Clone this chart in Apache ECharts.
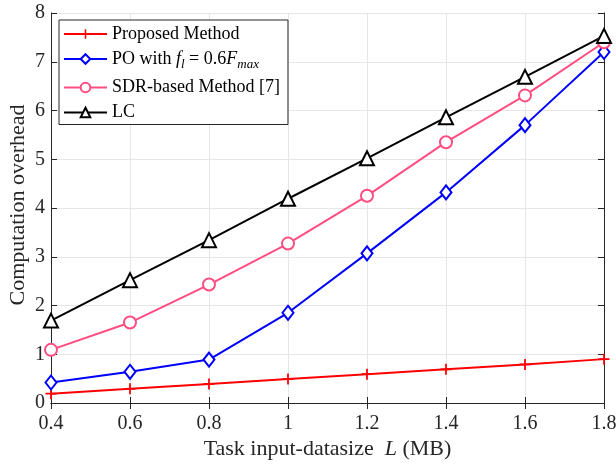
<!DOCTYPE html>
<html><head><meta charset="utf-8">
<script src="https://cdn.jsdelivr.net/npm/echarts@6/dist/echarts.min.js"></script>
<style>html,body{margin:0;padding:0;background:#fff}#c{width:616px;height:465px}</style>
</head><body><div id="c"></div>
<script>
const xValues = [0.4, 0.6, 0.8, 1.0, 1.2, 1.4, 1.6, 1.8];
const proposed = [0.19, 0.29, 0.39, 0.49, 0.59, 0.69, 0.79, 0.9];
const po = [0.42, 0.64, 0.89, 1.85, 3.07, 4.32, 5.70, 7.20];
const sdr = [1.09, 1.65, 2.43, 3.27, 4.25, 5.35, 6.31, 7.40];
const lc = [1.69, 2.52, 3.34, 4.19, 5.02, 5.86, 6.69, 7.53];
const seriesNames = ['Proposed Method', 'PO with f_l = 0.6F_max', 'SDR-based Method [7]', 'LC'];

const font = 'Liberation Serif, Times New Roman, serif';
const pair = a => a.map((v, i) => [xValues[i], v]);
const plus = 'path://M4.2,0H5.8V4.2H10V5.8H5.8V10H4.2V5.8H0V4.2H4.2Z';

const chart = echarts.init(document.getElementById('c'));
const axisLineStyle = {color: '#262626', width: 1};
chart.setOption({
  animation: false,
  grid: {left: 51, right: 12, top: 13, bottom: 62, containLabel: false, outerBoundsMode: 'none'},
  xAxis: [{
    type: 'value', min: 0.4, max: 1.8, interval: 0.2,
    axisLine: {show: true, lineStyle: axisLineStyle},
    axisTick: {show: true, inside: true, length: 6, lineStyle: axisLineStyle},
    axisLabel: {fontFamily: font, fontSize: 20, color: '#262626', margin: 11,
      formatter: v => (Math.round(v * 10) / 10).toString()},
    splitLine: {show: true, lineStyle: {color: '#e6e6e6', width: 1}},
    name: '{n|Task input-datasize  }{i|L}{n| (MB)}', nameLocation: 'middle', nameGap: 35,
    nameMoveOverlap: false,
    nameTextStyle: {fontFamily: font, fontSize: 22, color: '#262626',
      rich: {n: {fontFamily: font, fontSize: 22, color: '#262626'},
             i: {fontFamily: font, fontSize: 22, fontStyle: 'italic', color: '#262626'}}}
  }, {
    type: 'value', position: 'top', min: 0.4, max: 1.8, interval: 0.2,
    axisLine: {show: true, lineStyle: axisLineStyle},
    axisTick: {show: true, inside: true, length: 6, lineStyle: axisLineStyle},
    axisLabel: {show: false}, splitLine: {show: false}
  }],
  yAxis: [{
    type: 'value', min: 0, max: 8, interval: 1,
    axisLine: {show: true, lineStyle: axisLineStyle},
    axisTick: {show: true, inside: true, length: 6, lineStyle: axisLineStyle},
    axisLabel: {fontFamily: font, fontSize: 20, color: '#262626', margin: 6},
    splitLine: {show: true, lineStyle: {color: '#e6e6e6', width: 1}},
    name: 'Computation overhead', nameLocation: 'middle', nameGap: 22,
    nameMoveOverlap: false,
    nameTextStyle: {fontFamily: font, fontSize: 22, color: '#262626', padding: [0, 0, 0, 6]}
  }, {
    type: 'value', position: 'right', min: 0, max: 8, interval: 1,
    axisLine: {show: true, lineStyle: axisLineStyle},
    axisTick: {show: true, inside: true, length: 6, lineStyle: axisLineStyle},
    axisLabel: {show: false}, splitLine: {show: false}
  }],
  legend: {
    show: true, orient: 'vertical', left: 59, top: 20,
    backgroundColor: '#fff', borderColor: '#262626', borderWidth: 1,
    padding: [5, 8, 3, 4], itemGap: 7, itemWidth: 43, itemHeight: 12,
    textStyle: {fontFamily: font, fontSize: 18, color: '#000',
      rich: {
        n: {fontFamily: font, fontSize: 18, color: '#000'},
        i: {fontFamily: font, fontSize: 18, fontStyle: 'italic', color: '#000'},
        s: {fontFamily: font, fontSize: 13, fontStyle: 'italic', color: '#000', padding: [12, 0, 0, 0]}
      }},
    formatter: name => {
      if (name === seriesNames[1]) return '{n|PO with }{i|f}{s|l}{n| = 0.6}{i|F}{s|max}';
      return '{n|' + name + '}';
    },
    data: seriesNames
  },
  series: [
    {name: seriesNames[0], type: 'line', data: pair(proposed), symbol: plus, symbolSize: 11,
     lineStyle: {color: '#ff0000', width: 2}, itemStyle: {color: '#ff0000'}},
    {name: seriesNames[1], type: 'line', data: pair(po), symbol: 'emptyDiamond', symbolSize: [11, 14],
     lineStyle: {color: '#0000ff', width: 2}, itemStyle: {color: '#0000ff', borderWidth: 2}},
    {name: seriesNames[2], type: 'line', data: pair(sdr), symbol: 'emptyCircle', symbolSize: 12,
     lineStyle: {color: '#ff4d80', width: 2}, itemStyle: {color: '#ff4d80', borderWidth: 2}},
    {name: seriesNames[3], type: 'line', data: pair(lc), symbol: 'emptyTriangle', symbolSize: 14,
     lineStyle: {color: '#000000', width: 2}, itemStyle: {color: '#000000', borderWidth: 2}}
  ]
});
</script></body></html>
